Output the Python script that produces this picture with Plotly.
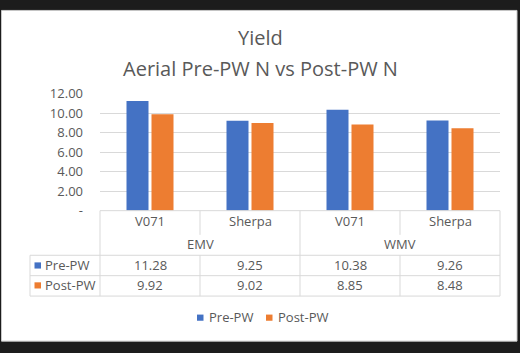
import plotly.graph_objects as go

W, H = 520, 353

# ---- data ----
categories = ["V071", "Sherpa", "V071", "Sherpa"]
groups = ["EMV", "WMV"]
series_names = ["Pre-PW", "Post-PW"]
pre_pw = [11.28, 9.25, 10.38, 9.26]
post_pw = [9.92, 9.02, 8.85, 8.48]
tick_values = [0, 2, 4, 6, 8, 10, 12]
tick_labels = ["-", "2.00", "4.00", "6.00", "8.00", "10.00", "12.00"]
title_lines = ["Yield", "Aerial Pre-PW N vs Post-PW N"]

colors = ["#4472C4", "#ED7D31"]
series_values = [pre_pw, post_pw]
TXT = "#595959"
GRID = "#D9D9D9"
FONT = "Open Sans"


def px(x):
    return x / W


def py(y):
    return 1 - y / H


# plot area in pixels
X0, X1 = 100, 500
Y_TOP, Y_ZERO = 89.5, 212.5

fig = go.Figure()
xs = list(range(len(categories)))
for name, vals, c in zip(series_names, series_values, colors):
    fig.add_trace(go.Bar(x=xs, y=vals, name=name, marker=dict(color=c, line=dict(width=0)),
                         showlegend=False, hoverinfo="y"))

shapes = []
annotations = []

# outer frame
shapes.append(dict(type="rect", xref="paper", yref="paper", x0=px(1.5), x1=px(517), y0=py(350), y1=py(1.5),
                   fillcolor="white", line=dict(color="#C8C8C8", width=1), layer="below"))

# titles
annotations.append(dict(text=title_lines[0], x=0.5, y=py(30), xref="paper", yref="paper",
                        showarrow=False, xanchor="center", yanchor="middle",
                        font=dict(family=FONT, size=20, color=TXT)))
annotations.append(dict(text=title_lines[1], x=0.5, y=py(63), xref="paper", yref="paper",
                        showarrow=False, xanchor="center", yanchor="middle",
                        font=dict(family=FONT, size=20, color=TXT)))

# table geometry (pixels)
col_w = (X1 - X0) / len(categories)
row_cat = 223.5
row_grp = 247.5
row_y = [270, 291]
L_TABLE = 30
h_lines = [(X0, X1, Y_ZERO), (L_TABLE, X1, 259.5), (L_TABLE, X1, 281), (L_TABLE, X1, 302.5)]
for xa, xb, yy in h_lines:
    shapes.append(dict(type="line", xref="paper", yref="paper", x0=px(xa), x1=px(xb), y0=py(yy), y1=py(yy),
                       line=dict(color=GRID, width=1)))
# vertical lines
n_per_group = len(categories) // len(groups)
for i in range(len(categories) + 1):
    xx = X0 + i * col_w
    if i % n_per_group == 0:
        shapes.append(dict(type="line", xref="paper", yref="paper", x0=px(xx), x1=px(xx),
                           y0=py(Y_ZERO), y1=py(302.5), line=dict(color=GRID, width=1)))
    else:
        shapes.append(dict(type="line", xref="paper", yref="paper", x0=px(xx), x1=px(xx),
                           y0=py(Y_ZERO), y1=py(238), line=dict(color=GRID, width=1)))
        shapes.append(dict(type="line", xref="paper", yref="paper", x0=px(xx), x1=px(xx),
                           y0=py(259.5), y1=py(302.5), line=dict(color=GRID, width=1)))
shapes.append(dict(type="line", xref="paper", yref="paper", x0=px(L_TABLE), x1=px(L_TABLE),
                   y0=py(259.5), y1=py(302.5), line=dict(color=GRID, width=1)))

tfont = dict(family=FONT, size=13, color=TXT)
for i, cat in enumerate(categories):
    annotations.append(dict(text=cat, x=px(X0 + (i + 0.5) * col_w), y=py(row_cat), xref="paper", yref="paper",
                            showarrow=False, xanchor="center", yanchor="middle", font=tfont))
for g, grp in enumerate(groups):
    annotations.append(dict(text=grp, x=px(X0 + (g + 0.5) * n_per_group * col_w), y=py(row_grp),
                            xref="paper", yref="paper", showarrow=False, xanchor="center",
                            yanchor="middle", font=tfont))
for r, (name, vals, c) in enumerate(zip(series_names, series_values, colors)):
    yy = row_y[r]
    shapes.append(dict(type="rect", xref="paper", yref="paper", x0=px(34.5), x1=px(41), y0=py(yy + 3.5),
                       y1=py(yy - 3), fillcolor=c, line=dict(width=0)))
    annotations.append(dict(text=name, x=px(43), y=py(yy), xref="paper", yref="paper", showarrow=False,
                            xanchor="left", yanchor="middle", font=tfont))
    for i, v in enumerate(vals):
        annotations.append(dict(text=f"{v:.2f}", x=px(X0 + (i + 0.5) * col_w), y=py(yy), xref="paper",
                                yref="paper", showarrow=False, xanchor="center", yanchor="middle", font=tfont))

# legend
leg_y = 325
leg_x = [197, 266]
for name, c, lx in zip(series_names, colors, leg_x):
    shapes.append(dict(type="rect", xref="paper", yref="paper", x0=px(lx), x1=px(lx + 6.5), y0=py(leg_y + 3.5),
                       y1=py(leg_y - 3), fillcolor=c, line=dict(width=0)))
    annotations.append(dict(text=name, x=px(lx + 10), y=py(leg_y), xref="paper", yref="paper",
                            showarrow=False, xanchor="left", yanchor="middle", font=tfont))

fig.update_layout(
    width=W, height=H,
    margin=dict(l=0, r=0, t=0, b=0),
    paper_bgcolor="#1c1c1c",
    plot_bgcolor="rgba(0,0,0,0)",
    barmode="group", bargap=0.5, bargroupgap=0.12,
    showlegend=False,
    shapes=shapes, annotations=annotations,
    xaxis=dict(domain=[px(X0), px(X1)], range=[-0.5, len(categories) - 0.5], showticklabels=False,
               showgrid=False, zeroline=False, showline=False, fixedrange=True),
    yaxis=dict(domain=[py(Y_ZERO), py(Y_TOP)], range=[0, 12], tickvals=tick_values, ticktext=tick_labels,
               showgrid=True, gridcolor=GRID, gridwidth=1, zeroline=False, showline=False,
               ticks="", ticklabelstandoff=16, tickfont=dict(family=FONT, size=13, color=TXT),
               fixedrange=True),
)

fig.write_html("out.html")
